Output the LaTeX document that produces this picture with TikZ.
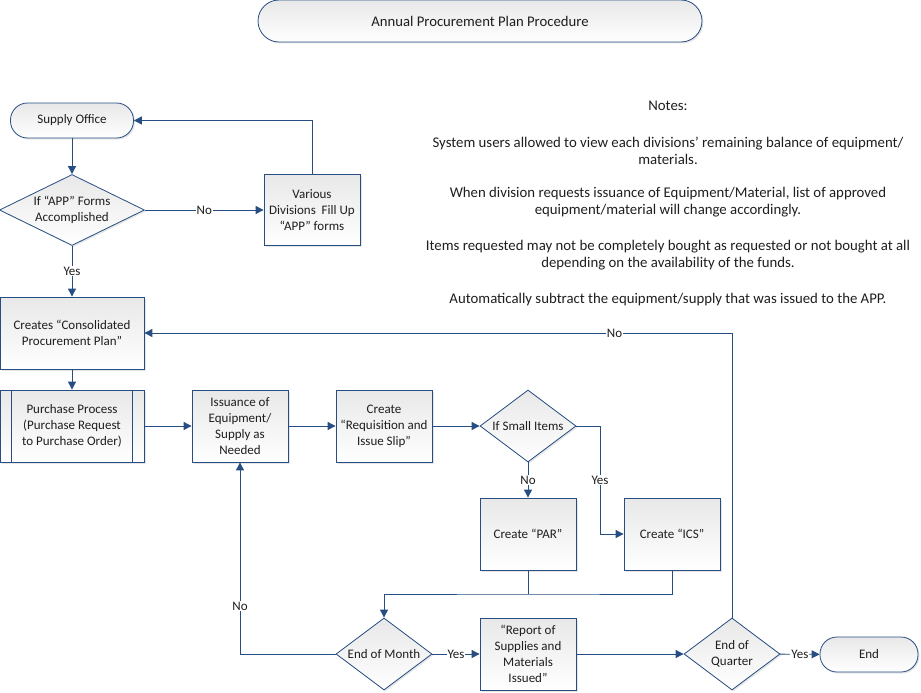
\documentclass[tikz,border=0pt]{standalone}
\usepackage{fontspec}
\setmainfont{Carlito}
\usetikzlibrary{arrows.meta,shapes.geometric,shadows}
\definecolor{lnc}{RGB}{38,78,130}
\definecolor{txc}{RGB}{30,30,30}
\begin{document}
\begin{tikzpicture}[x=1pt,y=-1pt,
  font=\fontsize{13}{16}\selectfont, text=txc,
  base/.style={draw=lnc, line width=0.8pt, top color=black!9, bottom color=white,
    drop shadow={shadow xshift=1.5pt,shadow yshift=-1.5pt,opacity=0.2},
    align=center, inner sep=0pt},
  box/.style={base, rectangle, minimum width=96pt, minimum height=72pt},
  term/.style={base, rectangle, rounded corners=17pt, minimum height=35pt},
  dia/.style={base, diamond, minimum width=96pt, minimum height=72pt},
  conn/.style={draw=lnc, line width=0.9pt},
  arr/.style={conn, -{Triangle[length=8pt,width=8pt]}},
  lab/.style={fill=white, inner sep=1pt, text=txc}
]
\useasboundingbox (0,0) rectangle (921,693);

\node[term, rounded corners=21pt, minimum width=444pt, minimum height=42pt, font=\fontsize{14.7}{17}\selectfont] (title) at (480,21) {Annual Procurement Plan Procedure};

\node[term, minimum width=123pt] (supply) at (72,120.5) {Supply Office};
\node[dia, minimum width=145pt, minimum height=71pt,
  label={[align=center]center:If “APP” Forms\\Accomplished}] (d1) at (72,210) {};
\node[box, minimum height=71pt] (var) at (312,210) {Various\\Divisions\ \ Fill Up\\“APP” forms};
\node[box, minimum width=144pt] (cons) at (72,333) {Creates “Consolidated\\Procurement Plan”};
\node[box, minimum width=144pt] (pp) at (72,426) {Purchase Process\\(Purchase Request\\to Purchase Order)};
\draw[conn, line width=0.8pt] ([xshift=12pt]pp.north west) -- ([xshift=12pt]pp.south west);
\draw[conn, line width=0.8pt] ([xshift=-12pt]pp.north east) -- ([xshift=-12pt]pp.south east);
\node[box] (iss) at (240,426) {Issuance of\\Equipment/\\Supply as\\Needed};
\node[box] (req) at (384,426) {Create\\“Requisition and\\Issue Slip”};
\node[dia, label={[align=center]center:If Small Items}] (si) at (528,426) {};
\node[box] (par) at (528,534) {Create “PAR”};
\node[box] (ics) at (672,534) {Create “ICS”};
\node[dia, label={[align=center]center:End of Month}] (em) at (384,654) {};
\node[box] (rep) at (528,654) {“Report of\\Supplies and\\Materials\\Issued”};
\node[dia, label={[align=center]center:End of\\Quarter}] (eq) at (732,654) {};
\node[term, minimum width=98pt] (end) at (869,654.5) {End};

\node[align=center, font=\fontsize{14.8}{17}\selectfont] (notes) at (668,203.5) {Notes:\\[20pt]
System users allowed to view each divisions’ remaining balance of equipment/\\materials.\\[16pt]
When division requests issuance of Equipment/Material, list of approved\\equipment/material will change accordingly.\\[19pt]
Items requested may not be completely bought as requested or not bought at all\\depending on the availability of the funds.\\[19pt]
Automatically subtract the equipment/supply that was issued to the APP.};

\draw[arr] (supply) -- (d1);
\draw[arr] (d1) -- node[lab]{No} (var);
\draw[arr] (var.north) |- (supply.east);
\draw[arr] (d1) -- node[lab]{Yes} (cons);
\draw[arr] (cons) -- (pp);
\draw[arr] (pp) -- (iss);
\draw[arr] (iss) -- (req);
\draw[arr] (req) -- (si);
\draw[arr] (si) -- node[lab]{No} (par);
\coordinate (c1) at (600,426);
\draw[arr] (si.east) -- (c1) |- node[lab,pos=0.25]{Yes} (ics.west);
\coordinate (mg) at (528,594);
\draw[conn] (par.south) -- (mg);
\draw[arr] (ics.south) |- (mg) -| (em.north);
\draw[arr] (em) -- node[lab]{Yes} (rep);
\draw[arr] (rep) -- (eq);
\draw[arr] (eq) -- node[lab]{Yes} (end);
\draw[arr] (eq.north) |- node[lab,pos=0.6]{No} (cons.east);
\draw[arr] (em.west) -| node[lab,pos=0.625]{No} (iss.south);
\end{tikzpicture}
\end{document}
